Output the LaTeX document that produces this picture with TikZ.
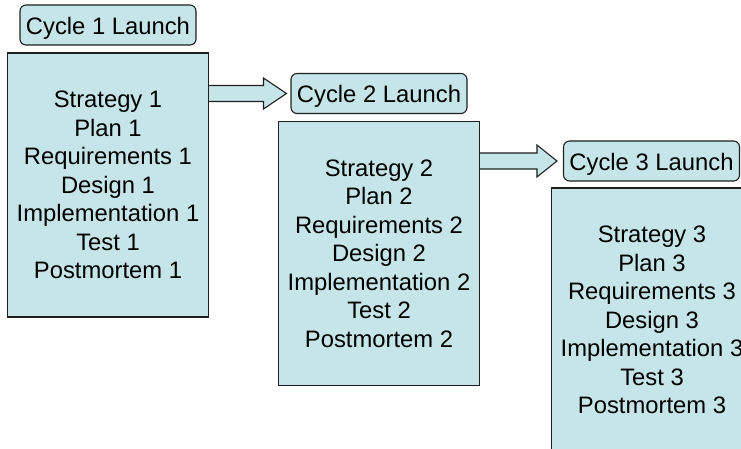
\documentclass[tikz,border=0pt]{standalone}
\usepackage{fontspec}
\setmainfont{Liberation Sans}
\usetikzlibrary{calc,backgrounds}
\definecolor{panelfill}{RGB}{198,229,232}
\definecolor{edge}{RGB}{30,30,30}
\begin{document}
\begin{tikzpicture}[x=1pt,y=1pt,
  launch/.style={draw=edge, fill=panelfill, line width=1.1pt, rounded corners=6pt,
    minimum width=176pt, minimum height=40pt, inner sep=0pt,
    text height=21pt, text depth=2pt,
    font=\fontsize{23.8}{28.5}\selectfont},
  phase/.style={draw=edge, fill=panelfill, line width=1.1pt,
    minimum width=201pt, minimum height=264pt, inner sep=0pt, align=center,
    font=\fontsize{23.8}{28.5}\selectfont},
  blockarrow/.style={draw=edge, fill=panelfill, line width=1.1pt, line join=miter}]
\useasboundingbox (0,0) rectangle (741,-449);
\clip (0,0) rectangle (741,-449);

% cycle 1
\node[launch] (launch1) at (108,-25) {Cycle 1 Launch};
\node[phase] (cycle1) at (108,-185) {Strategy 1\\Plan 1\\Requirements 1\\Design 1\\Implementation 1\\Test 1\\Postmortem 1};

% cycle 2
\node[launch] (launch2) at (379,-93.5) {Cycle 2 Launch};
\node[phase] (cycle2) at (379,-253.5) {Strategy 2\\Plan 2\\Requirements 2\\Design 2\\Implementation 2\\Test 2\\Postmortem 2};

% cycle 3
\node[launch] (launch3) at (651.5,-161) {Cycle 3 Launch};
\node[phase] (cycle3) at (652,-320) {Strategy 3\\Plan 3\\Requirements 3\\Design 3\\Implementation 3\\Test 3\\Postmortem 3};

% block arrows from each cycle to the next launch
\begin{scope}[on background layer]
\draw[blockarrow] let \p1=(cycle1.east |- launch2.west), \p2=([xshift=-4pt]launch2.west) in
  (\x1,\y1+8) -- (\x2-23,\y1+8) -- (\x2-23,\y1+15.5) -- (\x2,\y1)
  -- (\x2-23,\y1-15.5) -- (\x2-23,\y1-8) -- (\x1,\y1-8);
\draw[blockarrow] let \p1=(cycle2.east |- launch3.west), \p2=([xshift=-6pt]launch3.west) in
  (\x1,\y1+8) -- (\x2-20,\y1+8) -- (\x2-20,\y1+16) -- (\x2,\y1)
  -- (\x2-20,\y1-16) -- (\x2-20,\y1-8) -- (\x1,\y1-8);
\end{scope}
\end{tikzpicture}
\end{document}
